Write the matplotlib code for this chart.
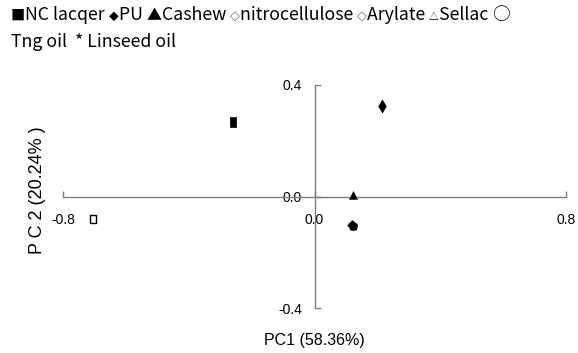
import matplotlib
matplotlib.use("Agg")
import matplotlib.pyplot as plt
from matplotlib import font_manager

# PCA scores of the coating samples
samples = ["NC lacqer", "PU", "Cashew", "nitrocellulose", "Arylate", "Sellac", "Tng oil", "Linseed oil"]
pc1 = [-0.258, 0.216, 0.121, -0.706, 0.119, 0.122, 0.121, 0.123]
pc2 = [0.268, 0.325, 0.005, -0.082, -0.104, -0.106, -0.105, -0.103]

x_ticks = [-0.8, 0.0, 0.8]
y_ticks = [-0.4, 0.0, 0.4]
x_label = "PC1 (58.36%)"
y_label = "P C 2 (20.24% )"

# legend text as (string, relative size) pieces, symbols drawn smaller
legend_line1 = [("■", 0.8), ("NC lacqer ", 1.0), ("◆", 0.55), ("PU ", 1.0), ("▲", 0.85),
                ("Cashew ", 1.0), ("◇", 0.55), ("nitrocellulose ", 1.0), ("◇", 0.55),
                ("Arylate ", 1.0), ("△", 0.55), ("Sellac ", 1.0), ("○", 1.0)]
legend_line2 = [("Tng oil  * Linseed oil", 1.0)]

names = {f.name for f in font_manager.fontManager.ttflist}
narrow = "Liberation Sans Narrow" if "Liberation Sans Narrow" in names else "Liberation Sans"

tall_rect = [(-0.36, -0.5), (0.36, -0.5), (0.36, 0.5), (-0.36, 0.5), (-0.36, -0.5)]
styles = [
    dict(marker=tall_rect, s=45, facecolors="black", edgecolors="black", linewidths=0.5),
    dict(marker="d", s=42, facecolors="black", edgecolors="black", linewidths=0.5),
    dict(marker="^", s=30, facecolors="black", edgecolors="black", linewidths=0.5),
    dict(marker=tall_rect, s=40, facecolors="white", edgecolors="black", linewidths=1.0),
    dict(marker="D", s=22, facecolors="black", edgecolors="black", linewidths=0.8),
    dict(marker="^", s=22, facecolors="black", edgecolors="black", linewidths=0.8),
    dict(marker="o", s=28, facecolors="black", edgecolors="black", linewidths=0.8),
    dict(marker="*", s=30, facecolors="black", edgecolors="black", linewidths=0.6),
]

W, H = 578, 353
fig = plt.figure(figsize=(W / 100, H / 100), dpi=100)
ax = fig.add_axes([63 / W, 45 / H, 503 / W, 223 / H])

for xv, yv, st in zip(pc1, pc2, styles):
    ax.scatter([xv], [yv], zorder=3, clip_on=False, **st)

ax.set_xlim(x_ticks[0], x_ticks[-1])
ax.set_ylim(y_ticks[0], y_ticks[-1])
ax.set_xticks(x_ticks)
ax.set_yticks(y_ticks)
ax.set_xticklabels([f"{v:.1f}" for v in x_ticks])
ax.set_yticklabels([f"{v:.1f}" for v in y_ticks])

for side in ("top", "right"):
    ax.spines[side].set_visible(False)
ax.spines["left"].set_position(("data", 0.0))
ax.spines["bottom"].set_position(("data", 0.0))
for side in ("left", "bottom"):
    ax.spines[side].set_color("#7f7f7f")
    ax.spines[side].set_linewidth(1.0)

ax.tick_params(axis="x", direction="in", length=4, width=1, color="#7f7f7f", pad=12,
               labelsize=10, labelcolor="black")
ax.tick_params(axis="y", direction="in", length=4, width=1, color="#7f7f7f", pad=9,
               labelsize=10, labelcolor="black")
for lab in ax.get_xticklabels() + ax.get_yticklabels():
    lab.set_family(narrow)
ax.patch.set_visible(False)

fig.text(314 / W, 1 - 340 / H, x_label, ha="center", va="center",
         fontsize=11.5, family=narrow)
fig.text(38 / W, 1 - 190 / H, y_label, ha="center", va="center",
         rotation=90, fontsize=13, family=narrow)

legend_fonts = ["Noto Sans CJK TC", "DejaVu Sans"]
legend_size = 12.75
renderer = fig.canvas.get_renderer()


def draw_line(pieces, y_px):
    x = 11 / W
    for s, rel in pieces:
        t = fig.text(x, 1 - y_px / H, s, ha="left", va="baseline",
                     fontsize=legend_size * rel, family=legend_fonts)
        x += t.get_window_extent(renderer).width / W


draw_line(legend_line1, 20)
draw_line(legend_line2, 47)

fig.savefig("out.png", dpi=100)
